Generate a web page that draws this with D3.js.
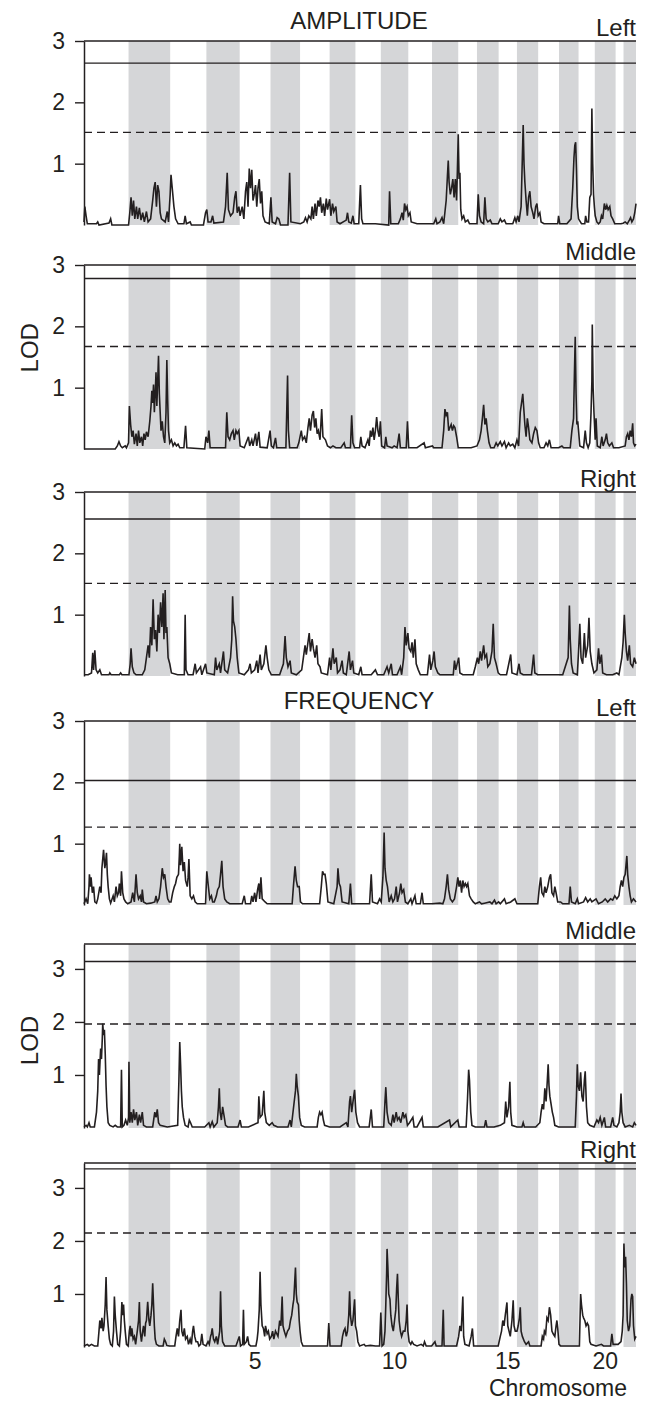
<!DOCTYPE html>
<html>
<head>
<meta charset="utf-8">
<script src="https://cdn.jsdelivr.net/npm/d3@7"></script>
<style>
  body { margin: 0; background: #fff; }
</style>
</head>
<body>
<div id="chart"></div>
<script>
// chromosome lengths (map units), chromosomes 1..22
const chromLen = [107, 100, 87, 80, 74, 71, 71, 62, 61, 66, 57, 63, 45, 52, 44, 51, 50, 47, 39, 50, 19, 30];
const xTickChrom = [5, 10, 15, 20];
const lodTicks = [1, 2, 3];

const panelTitles = ["AMPLITUDE", "", "", "FREQUENCY", "", ""];
const panelNames = ["Left", "Middle", "Right", "Left", "Middle", "Right"];
const panelMax = [3, 3, 3, 3, 3.47, 3.47];
const solidThreshold = [2.64, 2.78, 2.56, 2.03, 3.14, 3.36];
const dashedThreshold = [1.51, 1.67, 1.51, 1.27, 1.96, 2.15];

// LOD profiles as flat lists: position, LOD, position, LOD, ...
const ampLeft = [0,0.05, 2,0.3, 5,0.15, 8,0.02, 30,0.02, 33,0.05, 36,0, 60,0.03, 64,0.1, 67,0, 107,0, 110,0.2, 113,0.45, 116,0.15, 119,0.4, 122,0.1, 126,0.3, 129,0.1, 133,0.28, 137,0.08, 141,0.2, 145,0.05, 150,0.22, 154,0.05, 160,0.1, 165,0.4, 168,0.6, 171,0.7, 174,0.3, 177,0.65, 180,0.55, 183,0.2, 186,0.1, 195,0.05, 200,0.22, 203,0.05, 207,0.5, 209,0.82, 212,0.6, 216,0.3, 220,0.1, 226,0.02, 240,0.02, 243,0.15, 246,0.02, 255,0.05, 258,0, 287,0, 292,0.2, 295,0.25, 298,0.05, 305,0.05, 309,0.15, 312,0.03, 335,0.05, 340,0.3, 344,0.85, 347,0.25, 352,0.15, 358,0.2, 362,0.45, 365,0.55, 368,0.2, 372,0.3, 375,0.15, 380,0.3, 384,0.1, 388,0.55, 391,0.7, 394,0.3, 397,0.92, 400,0.6, 403,0.9, 406,0.4, 409,0.5, 412,0.65, 415,0.3, 418,0.6, 421,0.75, 424,0.35, 427,0.55, 430,0.15, 435,0.05, 445,0.02, 449,0.45, 452,0.05, 460,0.02, 464,0.12, 468,0.1, 472,0, 490,0, 494,0.85, 497,0.05, 520,0.02, 528,0.05, 532,0.12, 536,0.05, 540,0.15, 545,0.1, 548,0.3, 551,0.1, 555,0.35, 558,0.15, 562,0.4, 565,0.3, 568,0.45, 571,0.2, 575,0.35, 578,0.15, 582,0.43, 585,0.25, 590,0.42, 593,0.15, 597,0.35, 600,0.22, 605,0.3, 608,0.05, 615,0.02, 630,0.08, 633,0.2, 636,0.05, 642,0.03, 646,0.15, 649,0.02, 660,0.02, 664,0.65, 667,0.1, 670,0.02, 700,0.02, 732,0, 734,0.55, 737,0.02, 755,0.02, 760,0.1, 764,0.2, 767,0.08, 770,0.35, 773,0.25, 776,0.3, 779,0.15, 783,0.2, 786,0.05, 800,0.02, 840,0.02, 845,0.1, 848,0.02, 855,0.05, 860,0.12, 864,0.02, 870,0.4, 873,0.8, 875,1.05, 877,0.7, 880,0.5, 883,0.6, 886,0.75, 889,0.45, 892,0.75, 895,0.4, 897,0.9, 899,1.48, 901,0.75, 903,0.85, 905,0.25, 908,0.1, 912,0.15, 916,0.05, 922,0.08, 926,0.02, 944,0.02, 947,0.5, 950,0.15, 954,0.05, 960,0.02, 963,0.45, 966,0.1, 970,0.05, 976,0.08, 980,0.02, 995,0.02, 1000,0.1, 1004,0.05, 1010,0.08, 1014,0.02, 1030,0.02, 1035,0.12, 1038,0.05, 1042,0.15, 1045,0.05, 1050,0.3, 1053,1.1, 1055,1.63, 1057,1.0, 1059,0.7, 1062,0.4, 1065,0.15, 1068,0.45, 1071,0.55, 1074,0.3, 1078,0.2, 1081,0.1, 1085,0.3, 1088,0.35, 1091,0.15, 1095,0.2, 1098,0.05, 1105,0.02, 1138,0.02, 1140,0.15, 1143,0.02, 1160,0.02, 1170,0.1, 1174,0.6, 1177,1.1, 1179,1.3, 1181,1.35, 1183,0.9, 1185,0.3, 1188,0.1, 1195,0.02, 1203,0.02, 1205,0.15, 1208,0.05, 1212,0.05, 1215,0.45, 1218,0.5, 1220,1.9, 1222,1.0, 1224,0.5, 1226,0.3, 1228,0.15, 1232,0.05, 1236,0.02, 1240,0.05, 1243,0.15, 1246,0.1, 1250,0.35, 1253,0.25, 1256,0.32, 1259,0.25, 1263,0.3, 1266,0.15, 1270,0.1, 1275,0.02, 1290,0.02, 1295,0.03, 1300,0.05, 1305,0.02, 1310,0.08, 1313,0.12, 1316,0.05, 1320,0.1, 1323,0.2, 1326,0.35];

const ampMiddle = [0,0, 75,0, 80,0.05, 84,0.12, 88,0.05, 92,0.02, 99,0.05, 102,0.02, 107,0.1, 109,0.7, 112,0.4, 115,0.2, 118,0.3, 121,0.08, 125,0.25, 128,0.05, 131,0.3, 134,0.1, 138,0.2, 141,0.05, 144,0.25, 147,0.15, 150,0.28, 154,0.2, 158,0.45, 161,0.7, 163,0.95, 165,0.75, 167,1.05, 169,0.6, 171,0.9, 173,1.25, 175,0.7, 177,1.1, 179,1.52, 181,0.9, 183,0.6, 185,0.3, 188,0.45, 191,0.2, 194,0.1, 197,0.6, 199,1.45, 201,0.8, 203,0.3, 206,0.1, 210,0.15, 214,0.05, 218,0.1, 222,0.05, 226,0.08, 230,0.02, 240,0.02, 244,0.38, 247,0.02, 290,0, 293,0.2, 297,0.1, 300,0.3, 303,0.02, 340,0.02, 343,0.6, 346,0.2, 350,0.15, 354,0.25, 358,0.3, 361,0.15, 365,0.3, 368,0.25, 372,0.3, 375,0.05, 385,0.02, 395,0.2, 398,0.05, 403,0.15, 406,0.05, 412,0.25, 415,0.05, 420,0.28, 423,0.03, 440,0.02, 447,0.3, 450,0.05, 455,0.02, 460,0.18, 463,0.02, 485,0.02, 489,1.2, 491,0.3, 494,0.02, 512,0.02, 516,0.1, 522,0.3, 525,0.15, 530,0.2, 534,0.1, 538,0.35, 541,0.5, 544,0.3, 548,0.55, 551,0.62, 554,0.35, 557,0.5, 560,0.25, 563,0.3, 567,0.15, 571,0.65, 574,0.2, 580,0.15, 585,0.05, 592,0.02, 598,0.05, 605,0.02, 617,0.02, 625,0.1, 628,0.02, 640,0.02, 643,0.55, 646,0.1, 650,0.02, 662,0.02, 665,0.2, 668,0.05, 675,0.02, 682,0.15, 685,0.05, 688,0.3, 691,0.2, 694,0.35, 697,0.15, 700,0.3, 703,0.52, 706,0.3, 709,0.2, 712,0.45, 715,0.05, 722,0.02, 725,0.2, 728,0.05, 740,0.02, 745,0.05, 752,0.02, 757,0.25, 760,0.02, 774,0.02, 777,0.45, 780,0.02, 800,0.02, 817,0.1, 820,0.02, 837,0.05, 840,0.02, 860,0.02, 864,0.3, 867,0.65, 870,0.55, 873,0.6, 876,0.3, 879,0.35, 882,0.4, 885,0.3, 888,0.38, 891,0.35, 895,0.2, 899,0.02, 930,0.02, 944,0.05, 950,0.15, 954,0.3, 957,0.5, 960,0.72, 963,0.4, 966,0.5, 969,0.3, 973,0.1, 977,0.02, 985,0.02, 990,0.1, 994,0.05, 1000,0.12, 1004,0.05, 1010,0.12, 1014,0.02, 1020,0.1, 1024,0.05, 1030,0.08, 1035,0.02, 1040,0.15, 1044,0.05, 1048,0.6, 1051,0.75, 1054,0.9, 1056,0.7, 1059,0.4, 1062,0.2, 1065,0.5, 1068,0.35, 1071,0.15, 1076,0.1, 1080,0.25, 1084,0.35, 1088,0.3, 1092,0.1, 1096,0.02, 1105,0.02, 1110,0.1, 1114,0.05, 1118,0.15, 1122,0.02, 1140,0.02, 1148,0.05, 1152,0.02, 1168,0.02, 1172,0.3, 1176,0.5, 1178,1.2, 1180,1.83, 1182,0.9, 1184,0.4, 1186,0.45, 1188,0.3, 1191,0.05, 1200,0.02, 1204,0.3, 1207,0.1, 1211,0.02, 1215,0.1, 1218,0.6, 1220,1.1, 1221,2.03, 1223,1.0, 1225,0.6, 1228,0.15, 1230,0.5, 1233,0.05, 1240,0.02, 1244,0.2, 1247,0.05, 1252,0.15, 1255,0.25, 1258,0.1, 1262,0.05, 1268,0.1, 1272,0.02, 1285,0.02, 1300,0.05, 1303,0.2, 1306,0.25, 1309,0.15, 1312,0.3, 1315,0.2, 1318,0.42, 1320,0.1, 1323,0.05, 1326,0.08];

const ampRight = [0,0.02, 10,0.02, 18,0.05, 21,0.38, 23,0.1, 26,0.42, 29,0.1, 33,0.05, 38,0.1, 42,0.02, 60,0.02, 62,0.05, 65,0.02, 85,0.02, 88,0.05, 91,0.02, 108,0.02, 111,0.2, 113,0.45, 116,0.15, 120,0.05, 125,0.02, 140,0.02, 146,0.1, 150,0.3, 154,0.5, 157,0.3, 160,0.8, 163,0.5, 166,1.25, 169,0.6, 172,0.75, 175,0.4, 178,1.0, 181,0.7, 184,1.2, 187,0.8, 190,1.35, 192,0.6, 195,1.4, 197,0.7, 199,0.8, 202,0.3, 206,0.2, 210,0.05, 225,0.02, 241,0.02, 243,1.0, 245,0.1, 250,0.02, 262,0.02, 267,0.2, 270,0.05, 280,0.15, 283,0.02, 292,0.2, 295,0.05, 313,0.02, 316,0.3, 319,0.1, 325,0.2, 328,0.05, 335,0.4, 338,0.1, 345,0.05, 352,0.3, 355,0.6, 357,1.3, 359,0.9, 362,0.8, 365,0.6, 368,0.3, 372,0.05, 385,0.02, 395,0.1, 399,0.2, 402,0.05, 410,0.1, 415,0.25, 418,0.05, 423,0.35, 426,0.1, 432,0.2, 437,0.5, 440,0.3, 444,0.1, 450,0.02, 470,0.02, 479,0.2, 483,0.65, 486,0.3, 490,0.15, 495,0.25, 498,0.05, 510,0.02, 523,0.1, 527,0.3, 531,0.5, 534,0.35, 538,0.55, 541,0.7, 544,0.4, 548,0.6, 551,0.45, 555,0.3, 559,0.5, 562,0.2, 567,0.15, 570,0.05, 585,0.02, 590,0.3, 593,0.1, 598,0.45, 601,0.2, 606,0.3, 609,0.05, 615,0.1, 620,0.25, 623,0.05, 630,0.02, 637,0.4, 640,0.1, 645,0.25, 648,0.05, 660,0.02, 665,0.15, 668,0.02, 690,0.02, 700,0.1, 705,0.02, 720,0.02, 728,0.15, 732,0.05, 738,0.2, 741,0.02, 752,0.02, 760,0.15, 763,0.02, 768,0.3, 771,0.8, 774,0.5, 778,0.7, 781,0.45, 785,0.4, 788,0.55, 791,0.3, 795,0.6, 798,0.2, 803,0.1, 808,0.02, 825,0.02, 830,0.35, 833,0.1, 838,0.25, 841,0.4, 844,0.15, 850,0.05, 855,0.02, 887,0.02, 890,0.25, 893,0.1, 900,0.3, 903,0.05, 910,0.02, 935,0.02, 940,0.15, 945,0.3, 948,0.2, 952,0.4, 955,0.25, 960,0.5, 963,0.3, 967,0.35, 970,0.15, 975,0.2, 980,0.4, 983,0.85, 986,0.3, 990,0.2, 995,0.05, 1000,0.02, 1015,0.02, 1025,0.35, 1028,0.05, 1040,0.02, 1045,0.2, 1048,0.05, 1055,0.02, 1075,0.02, 1080,0.35, 1083,0.05, 1090,0.02, 1150,0.02, 1163,0.3, 1166,1.15, 1168,0.6, 1171,0.2, 1175,0.05, 1185,0.02, 1188,0.4, 1191,0.85, 1194,0.3, 1198,0.2, 1202,0.7, 1205,0.3, 1210,0.5, 1213,0.95, 1216,0.4, 1220,0.2, 1225,0.05, 1232,0.1, 1236,0.45, 1239,0.2, 1243,0.35, 1246,0.05, 1255,0.02, 1270,0.02, 1280,0.05, 1285,0.02, 1292,0.3, 1295,0.55, 1298,1.0, 1300,0.7, 1303,0.4, 1306,0.25, 1310,0.5, 1313,0.2, 1318,0.15, 1322,0.3, 1326,0.2];

const freqLeft = [0,0.02, 5,0.1, 9,0.02, 12,0.3, 13,0.5, 16,0.3, 17,0.45, 20,0.2, 23,0.3, 26,0.05, 30,0.03, 33,0.1, 38,0.3, 41,0.2, 43,0.6, 47,0.9, 50,0.6, 52,0.7, 54,0.85, 56,0.5, 58,0.3, 61,0.1, 64,0.03, 70,0.15, 73,0.05, 77,0.3, 80,0.15, 83,0.2, 85,0.35, 88,0.15, 90,0.55, 93,0.2, 96,0.1, 100,0.05, 105,0.02, 113,0.05, 117,0.2, 121,0.05, 125,0.5, 128,0.2, 131,0.1, 135,0.15, 138,0.05, 140,0.25, 143,0.05, 150,0.02, 160,0.03, 170,0.05, 173,0.15, 176,0.05, 180,0.1, 184,0.3, 188,0.6, 191,0.45, 194,0.5, 197,0.3, 201,0.1, 205,0.05, 209,0.05, 213,0.2, 217,0.3, 220,0.35, 223,0.45, 227,0.5, 229,0.8, 230,1.0, 232,0.65, 235,0.95, 238,0.55, 241,0.7, 244,0.4, 248,0.3, 250,0.45, 252,0.75, 255,0.15, 259,0.1, 263,0.15, 267,0.05, 272,0.02, 292,0.02, 295,0.55, 298,0.35, 302,0.1, 306,0.15, 309,0.05, 313,0.05, 318,0.15, 321,0.25, 325,0.3, 328,0.5, 331,0.72, 334,0.3, 338,0.1, 343,0.05, 350,0.02, 380,0.02, 385,0.15, 388,0.02, 400,0.02, 403,0.15, 406,0.05, 410,0.2, 413,0.05, 417,0.25, 420,0.35, 422,0.1, 425,0.45, 428,0.1, 435,0.05, 440,0.02, 500,0.02, 503,0.3, 507,0.63, 510,0.4, 513,0.3, 517,0.3, 520,0.05, 525,0.02, 566,0.02, 570,0.3, 573,0.55, 576,0.5, 579,0.5, 582,0.35, 586,0.05, 600,0.02, 608,0.3, 610,0.6, 613,0.35, 616,0.3, 620,0.05, 636,0.02, 640,0.35, 643,0.02, 686,0.02, 690,0.5, 693,0.05, 705,0.02, 710,0.1, 714,0.05, 718,0.45, 721,1.18, 723,0.6, 726,0.4, 729,0.3, 733,0.05, 738,0.15, 742,0.05, 746,0.1, 750,0.3, 753,0.05, 758,0.2, 761,0.35, 764,0.2, 768,0.25, 772,0.05, 778,0.02, 785,0.1, 788,0.02, 795,0.15, 798,0.02, 808,0.02, 812,0.2, 815,0.02, 835,0.02, 855,0.03, 862,0.02, 866,0.1, 870,0.3, 873,0.5, 876,0.25, 880,0.1, 885,0.05, 890,0.1, 895,0.3, 898,0.45, 901,0.3, 904,0.4, 907,0.2, 910,0.4, 913,0.3, 916,0.35, 919,0.3, 922,0.35, 926,0.15, 930,0.1, 935,0.05, 940,0.02, 950,0.05, 955,0.02, 962,0.03, 975,0.05, 980,0.02, 986,0.08, 990,0.02, 996,0.05, 1000,0.02, 1010,0.1, 1014,0.02, 1025,0.05, 1035,0.1, 1040,0.02, 1090,0.02, 1094,0.3, 1097,0.45, 1100,0.2, 1104,0.15, 1107,0.3, 1110,0.2, 1114,0.3, 1118,0.45, 1121,0.5, 1124,0.2, 1128,0.15, 1131,0.3, 1134,0.2, 1138,0.05, 1145,0.05, 1150,0.02, 1165,0.02, 1168,0.3, 1171,0.05, 1180,0.02, 1185,0.1, 1188,0.02, 1200,0.05, 1205,0.12, 1210,0.05, 1216,0.1, 1220,0.05, 1230,0.1, 1236,0.02, 1245,0.05, 1252,0.1, 1258,0.05, 1265,0.1, 1270,0.08, 1275,0.15, 1280,0.1, 1285,0.15, 1288,0.3, 1291,0.4, 1294,0.3, 1297,0.45, 1300,0.5, 1302,0.65, 1304,0.8, 1306,0.5, 1309,0.3, 1312,0.15, 1315,0.05, 1320,0.1, 1326,0.05];

const freqMiddle = [0,0.02, 5,0.05, 8,0.02, 12,0.1, 15,0.02, 25,0.02, 30,0.3, 33,0.7, 35,1.3, 37,1.0, 40,1.5, 42,1.3, 44,1.7, 45,1.97, 47,1.75, 49,1.85, 51,1.4, 53,0.8, 55,0.4, 58,0.1, 62,0.05, 70,0.02, 75,0.05, 80,0.02, 88,0.02, 90,1.1, 92,0.02, 96,0.05, 100,0.15, 104,0.05, 107,0.2, 108,1.25, 110,0.1, 113,0.3, 116,0.1, 119,0.35, 122,0.15, 126,0.3, 129,0.05, 133,0.25, 136,0.1, 140,0.3, 143,0.05, 150,0.02, 165,0.02, 170,0.3, 173,0.2, 176,0.35, 179,0.1, 183,0.05, 200,0.02, 225,0.05, 228,0.9, 230,1.62, 232,1.2, 234,0.7, 236,0.4, 239,0.2, 243,0.05, 250,0.02, 253,0.15, 256,0.1, 260,0.02, 290,0.02, 300,0.1, 303,0.02, 308,0.12, 312,0.02, 320,0.1, 323,0.4, 325,0.75, 327,0.3, 330,0.15, 333,0.4, 336,0.25, 340,0.05, 345,0.02, 370,0.02, 375,0.15, 378,0.02, 395,0.02, 418,0.1, 420,0.6, 423,0.2, 428,0.25, 432,0.7, 434,0.3, 438,0.1, 445,0.05, 452,0.1, 456,0.05, 465,0.02, 490,0.02, 495,0.15, 498,0.02, 505,0.5, 508,0.7, 510,1.02, 512,0.8, 515,0.6, 518,0.2, 522,0.05, 530,0.02, 560,0.02, 563,0.2, 566,0.3, 569,0.25, 572,0.3, 575,0.15, 578,0.05, 590,0.02, 615,0.02, 630,0.1, 634,0.02, 638,0.5, 640,0.6, 643,0.3, 647,0.55, 650,0.72, 653,0.3, 657,0.1, 662,0.02, 685,0.02, 690,0.35, 693,0.02, 720,0.02, 723,0.5, 725,0.77, 728,0.3, 732,0.1, 738,0.05, 742,0.25, 745,0.1, 750,0.3, 753,0.15, 757,0.2, 761,0.1, 766,0.3, 769,0.2, 773,0.25, 777,0.05, 782,0.1, 790,0.2, 793,0.02, 800,0.02, 812,0.2, 815,0.02, 850,0.02, 878,0.15, 881,0.02, 898,0.15, 901,0.02, 918,0.02, 921,0.5, 924,1.1, 926,0.9, 929,0.3, 932,0.05, 940,0.02, 962,0.02, 965,0.15, 968,0.02, 985,0.02, 1000,0.05, 1010,0.1, 1013,0.5, 1016,0.2, 1020,0.4, 1023,0.87, 1025,0.3, 1028,0.05, 1040,0.02, 1052,0.02, 1055,0.1, 1058,0.02, 1085,0.02, 1095,0.1, 1098,0.3, 1101,0.45, 1104,0.35, 1107,0.75, 1110,0.5, 1113,0.9, 1115,1.2, 1117,0.8, 1119,0.6, 1122,0.45, 1125,0.3, 1128,0.2, 1131,0.05, 1140,0.02, 1180,0.02, 1183,0.6, 1185,1.2, 1187,0.8, 1190,0.7, 1193,1.05, 1196,0.6, 1199,0.5, 1202,0.9, 1204,1.07, 1207,0.4, 1210,0.1, 1215,0.05, 1225,0.02, 1232,0.15, 1236,0.1, 1240,0.2, 1244,0.05, 1250,0.2, 1253,0.02, 1265,0.02, 1270,0.2, 1273,0.05, 1280,0.02, 1285,0.1, 1288,0.3, 1290,0.65, 1292,0.3, 1295,0.1, 1300,0.02, 1310,0.05, 1318,0.02, 1322,0.1, 1326,0.05];

const freqRight = [0,0.02, 8,0.05, 12,0.02, 18,0.05, 25,0.02, 33,0.02, 36,0.3, 38,0.5, 41,0.35, 43,0.55, 46,0.3, 48,0.4, 51,0.8, 53,1.32, 55,0.7, 58,0.4, 61,0.15, 64,0.05, 68,0.02, 71,0.3, 73,0.95, 75,0.6, 78,0.3, 81,0.05, 85,0.02, 88,0.3, 91,0.85, 93,0.6, 95,0.8, 97,0.5, 99,0.3, 102,0.05, 106,0.02, 109,0.3, 111,0.4, 113,0.2, 115,0.35, 118,0.15, 121,0.2, 124,0.05, 128,0.3, 131,0.5, 133,0.85, 135,0.3, 138,0.1, 141,0.3, 143,0.4, 146,0.2, 148,0.45, 150,0.5, 153,0.85, 156,0.5, 158,0.4, 161,0.6, 163,0.8, 165,1.2, 167,0.8, 169,0.4, 171,0.15, 174,0.05, 180,0.02, 190,0.02, 193,0.15, 196,0.1, 199,0.03, 205,0.02, 218,0.02, 221,0.2, 224,0.35, 227,0.2, 230,0.5, 233,0.7, 235,0.3, 238,0.2, 241,0.35, 244,0.15, 248,0.2, 251,0.05, 255,0.15, 258,0.05, 261,0.3, 263,0.4, 266,0.2, 269,0.1, 273,0.1, 276,0.02, 280,0.05, 283,0.25, 286,0.05, 293,0.02, 298,0.1, 301,0.05, 304,0.2, 306,0.25, 308,0.35, 311,0.15, 314,0.1, 318,0.2, 321,0.05, 326,0.3, 328,1.05, 330,0.4, 333,0.1, 338,0.02, 365,0.02, 373,0.2, 376,0.02, 381,0.05, 383,0.7, 385,0.05, 390,0.1, 393,0.2, 396,0.05, 400,0.02, 413,0.02, 416,0.15, 418,0.3, 421,0.7, 423,1.42, 425,0.8, 428,0.4, 431,0.35, 434,0.2, 436,0.4, 440,0.25, 443,0.3, 446,0.15, 450,0.2, 453,0.3, 456,0.15, 460,0.3, 463,0.25, 466,0.2, 470,0.5, 473,0.4, 476,0.95, 478,0.4, 481,0.3, 485,0.2, 489,0.3, 493,0.35, 496,0.5, 499,0.6, 502,0.8, 504,0.9, 506,1.2, 508,1.5, 510,1.0, 512,0.85, 515,0.8, 517,0.5, 519,0.3, 522,0.1, 526,0.02, 585,0.02, 588,0.45, 591,0.02, 618,0.02, 621,0.2, 624,0.3, 627,0.35, 630,0.2, 633,0.3, 636,0.6, 638,1.05, 640,0.6, 643,0.4, 646,0.5, 648,0.7, 650,0.9, 652,0.4, 655,0.3, 658,0.1, 662,0.02, 673,0.05, 676,0.02, 688,0.03, 700,0.02, 710,0.02, 713,0.65, 716,0.02, 720,0.05, 723,0.3, 725,0.8, 727,1.4, 728,1.85, 730,1.5, 732,1.0, 735,0.9, 737,0.6, 740,0.4, 743,0.3, 746,0.5, 749,0.7, 751,1.1, 753,1.38, 755,0.9, 757,0.5, 760,0.3, 763,0.2, 767,0.3, 771,0.3, 774,0.5, 776,0.8, 778,0.3, 781,0.1, 785,0.05, 788,0.1, 792,0.05, 800,0.02, 810,0.05, 815,0.02, 818,0.1, 822,0.02, 835,0.02, 843,0.1, 846,0.02, 860,0.02, 863,0.7, 865,0.02, 895,0.02, 900,0.2, 903,0.4, 906,0.3, 908,0.6, 910,0.95, 912,0.2, 915,0.05, 925,0.02, 930,0.2, 933,0.35, 936,0.02, 995,0.02, 1000,0.2, 1003,0.3, 1006,0.5, 1009,0.4, 1012,0.6, 1016,0.84, 1018,0.4, 1021,0.3, 1024,0.2, 1028,0.5, 1031,0.88, 1033,0.4, 1036,0.3, 1040,0.3, 1043,0.4, 1046,0.55, 1048,0.75, 1050,0.3, 1053,0.2, 1058,0.1, 1062,0.05, 1068,0.1, 1071,0.02, 1098,0.02, 1101,0.2, 1104,0.15, 1106,0.3, 1109,0.25, 1112,0.55, 1115,0.5, 1118,0.75, 1121,0.6, 1124,0.3, 1127,0.25, 1131,0.2, 1134,0.4, 1136,0.5, 1138,0.35, 1141,0.05, 1145,0.02, 1180,0.02, 1190,0.02, 1193,1.0, 1195,0.8, 1198,0.6, 1200,0.55, 1203,0.5, 1206,0.4, 1209,0.45, 1212,0.4, 1215,0.1, 1218,0.05, 1230,0.02, 1243,0.05, 1248,0.02, 1265,0.02, 1268,0.25, 1271,0.05, 1283,0.05, 1290,0.1, 1293,0.3, 1295,0.6, 1297,1.95, 1299,1.5, 1301,1.7, 1303,1.2, 1305,0.5, 1308,0.3, 1311,0.4, 1314,0.9, 1316,1.0, 1318,0.95, 1320,0.4, 1323,0.15, 1326,0.2];

const lodSeries = [ampLeft, ampMiddle, ampRight, freqLeft, freqMiddle, freqRight];

// layout
const width = 652, height = 1402;
const plotLeft = 84, plotRight = 636;
const panelTops = [41, 265, 492, 721, 944, 1163];
const panelHeight = 184;
const ink = "#231f20";
const bandFill = "#d5d6d8";
const font = "'Liberation Sans', Arial, Helvetica, sans-serif";

const starts = [0, ...d3.cumsum(chromLen)];
const x = d3.scaleLinear()
    .domain([0, starts[starts.length - 1]])
    .range([plotLeft, plotRight]);

const svg = d3.select("#chart").append("svg")
    .attr("width", width)
    .attr("height", height)
    .style("font-family", font);

function toPairs(flat) {
  const out = [];
  for (let i = 0; i < flat.length; i += 2) out.push([flat[i], flat[i + 1]]);
  return out;
}

lodSeries.forEach((series, i) => {
  const top = panelTops[i];
  const y = d3.scaleLinear()
      .domain([0, panelMax[i]])
      .range([top + panelHeight, top]);

  const g = svg.append("g");

  // grey bands on even chromosomes
  g.selectAll("rect")
    .data(chromLen.map((len, k) => k).filter(k => k % 2 === 1))
    .join("rect")
      .attr("x", k => x(starts[k]))
      .attr("width", k => x(starts[k + 1]) - x(starts[k]))
      .attr("y", y(panelMax[i]))
      .attr("height", y(0) - y(panelMax[i]))
      .attr("fill", bandFill);

  // thresholds
  g.append("line")
      .attr("x1", plotLeft).attr("x2", plotRight)
      .attr("y1", y(solidThreshold[i])).attr("y2", y(solidThreshold[i]))
      .attr("stroke", ink).attr("stroke-width", 1.4);
  g.append("line")
      .attr("x1", plotLeft).attr("x2", plotRight)
      .attr("y1", y(dashedThreshold[i])).attr("y2", y(dashedThreshold[i]))
      .attr("stroke", ink).attr("stroke-width", 1.4)
      .attr("stroke-dasharray", "8,5");
  // frame top
  g.append("line")
      .attr("x1", plotLeft).attr("x2", plotRight)
      .attr("y1", y(panelMax[i])).attr("y2", y(panelMax[i]))
      .attr("stroke", ink).attr("stroke-width", 1.6);

  // LOD profile
  const line = d3.line()
      .x(d => x(d[0]))
      .y(d => y(d[1]));
  g.append("path")
      .datum(toPairs(series))
      .attr("d", line)
      .attr("fill", "none")
      .attr("stroke", ink)
      .attr("stroke-width", 1.6);

  // y axis
  const axis = g.append("g")
      .attr("transform", `translate(${plotLeft},0)`)
      .call(d3.axisLeft(y)
        .tickValues(lodTicks)
        .tickFormat(d3.format("d"))
        .tickSize(9)
        .tickSizeOuter(0)
        .tickPadding(10));
  axis.select(".domain").attr("stroke", ink).attr("stroke-width", 1.5);
  axis.selectAll(".tick line").attr("stroke", ink).attr("stroke-width", 1.4);
  axis.selectAll(".tick text")
      .attr("fill", ink)
      .style("font-family", font)
      .style("font-size", "23px");

  // panel labels
  g.append("text")
      .attr("x", plotRight).attr("y", top - 5)
      .attr("text-anchor", "end")
      .attr("fill", ink)
      .style("font-size", "24px")
      .text(panelNames[i]);
  if (panelTitles[i]) {
    g.append("text")
        .attr("x", 359).attr("y", top - 12)
        .attr("text-anchor", "middle")
        .attr("fill", ink)
        .style("font-size", "24px")
        .text(panelTitles[i]);
  }
  if (i === 1 || i === 4) {
    g.append("text")
        .attr("transform", `translate(38,${y(1.65)}) rotate(-90)`)
        .attr("text-anchor", "middle")
        .attr("fill", ink)
        .style("font-size", "24px")
        .text("LOD");
  }
  if (i === lodSeries.length - 1) {
    g.selectAll(".chrom-label")
      .data(xTickChrom)
      .join("text")
        .attr("class", "chrom-label")
        .attr("x", c => x(starts[c - 1] + chromLen[c - 1] / 2))
        .attr("y", top + panelHeight + 22)
        .attr("text-anchor", "middle")
        .attr("fill", ink)
        .style("font-size", "23px")
        .text(c => c);
    g.append("text")
        .attr("x", 627).attr("y", top + panelHeight + 49)
        .attr("text-anchor", "end")
        .attr("fill", ink)
        .style("font-size", "23px")
        .text("Chromosome");
  }
});
</script>
</body>
</html>
